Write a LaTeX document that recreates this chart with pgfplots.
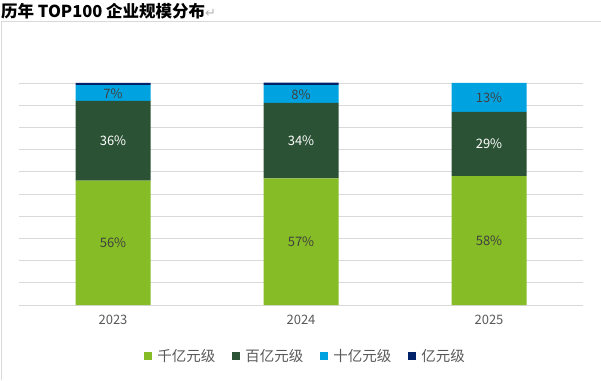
\documentclass[border=0pt]{standalone}
\usepackage{fontspec}
\setmainfont{Noto Sans CJK SC}
\newfontfamily\symfont{DejaVu Sans}
\usepackage{pgfplots}
\pgfplotsset{compat=1.18}
\definecolor{cA}{HTML}{86BC25}
\definecolor{cB}{HTML}{2B5235}
\definecolor{cC}{HTML}{00A3E0}
\definecolor{cD}{HTML}{012169}
\definecolor{gridc}{HTML}{D9D9D9}
\definecolor{txtg}{HTML}{595959}
\definecolor{lblg}{HTML}{404040}
\begin{document}
\begin{tikzpicture}[x=1pt,y=1pt]
\useasboundingbox (0,0) rectangle (601,380);
\draw[gridc, line width=1pt] (1.5,0) -- (1.5,358) -- (601,358);
\node[anchor=base west, inner sep=0pt, font=\fontsize{16.5}{16.5}\selectfont\bfseries] at (1,362)
  {历年 TOP100 企业规模分布{\mdseries\symfont\fontsize{13}{13}\selectfont\color{gray!60}↵}};
\begin{axis}[
  at={(19pt,75pt)}, anchor=south west, scale only axis,
  width=564pt, height=222pt,
  ybar stacked, bar width=75pt,
  xmin=-0.5, xmax=2.5, ymin=0, ymax=100,
  ytick={0,10,...,100}, yticklabels={},
  ymajorgrids, grid style={draw=gridc, line width=0.8pt},
  axis line style={draw=none},
  xtick={0,1,2}, xticklabels={2023,2024,2025},
  tick style={draw=none},
  xticklabel style={font=\fontsize{13}{13}\selectfont, text=txtg, yshift=-7pt},
  legend style={at={(0.508,-0.23)}, anchor=center, draw=none, fill=none,
    legend columns=4, font=\fontsize{14.5}{14.5}\selectfont, text=txtg,
    /tikz/every even column/.append style={column sep=15pt},
    /tikz/every odd column/.append style={column sep=3pt}},
]
\addplot[draw=none, fill=cA, legend image code/.code={\fill[cA] (0pt,-4pt) rectangle (8pt,4pt);}]
  coordinates {(0,56) (1,57) (2,58)};
\addlegendentry{千亿元级}
\addplot[draw=none, fill=cB, legend image code/.code={\fill[cB] (0pt,-4pt) rectangle (8pt,4pt);}]
  coordinates {(0,36) (1,34) (2,29)};
\addlegendentry{百亿元级}
\addplot[draw=none, fill=cC, legend image code/.code={\fill[cC] (0pt,-4pt) rectangle (8pt,4pt);}]
  coordinates {(0,7) (1,8) (2,13)};
\addlegendentry{十亿元级}
\addplot[draw=none, fill=cD, legend image code/.code={\fill[cD] (0pt,-4pt) rectangle (8pt,4pt);}]
  coordinates {(0,1) (1,1.2) (2,0)};
\addlegendentry{亿元级}
\end{axis}
\begin{axis}[
  at={(19pt,75pt)}, anchor=south west, scale only axis,
  width=564pt, height=222pt,
  xmin=-0.5, xmax=2.5, ymin=0, ymax=100, hide axis,
  nodes near coords, nodes near coords align={center},
  point meta=explicit symbolic,
]
\addplot[only marks, mark=none, nodes near coords style={font=\fontsize{13}{13}\selectfont, text=lblg, inner sep=0pt}]
  coordinates {(0,28)[56\%] (1,28.5)[57\%] (2,29)[58\%] (0,95.3)[7\%] (1,94.8)[8\%] (2,93.5)[13\%]};
\addplot[only marks, mark=none, nodes near coords style={font=\fontsize{13}{13}\selectfont, text=white, inner sep=0pt}]
  coordinates {(0,74)[36\%] (1,74)[34\%] (2,72.5)[29\%]};
\end{axis}
\end{tikzpicture}
\end{document}
